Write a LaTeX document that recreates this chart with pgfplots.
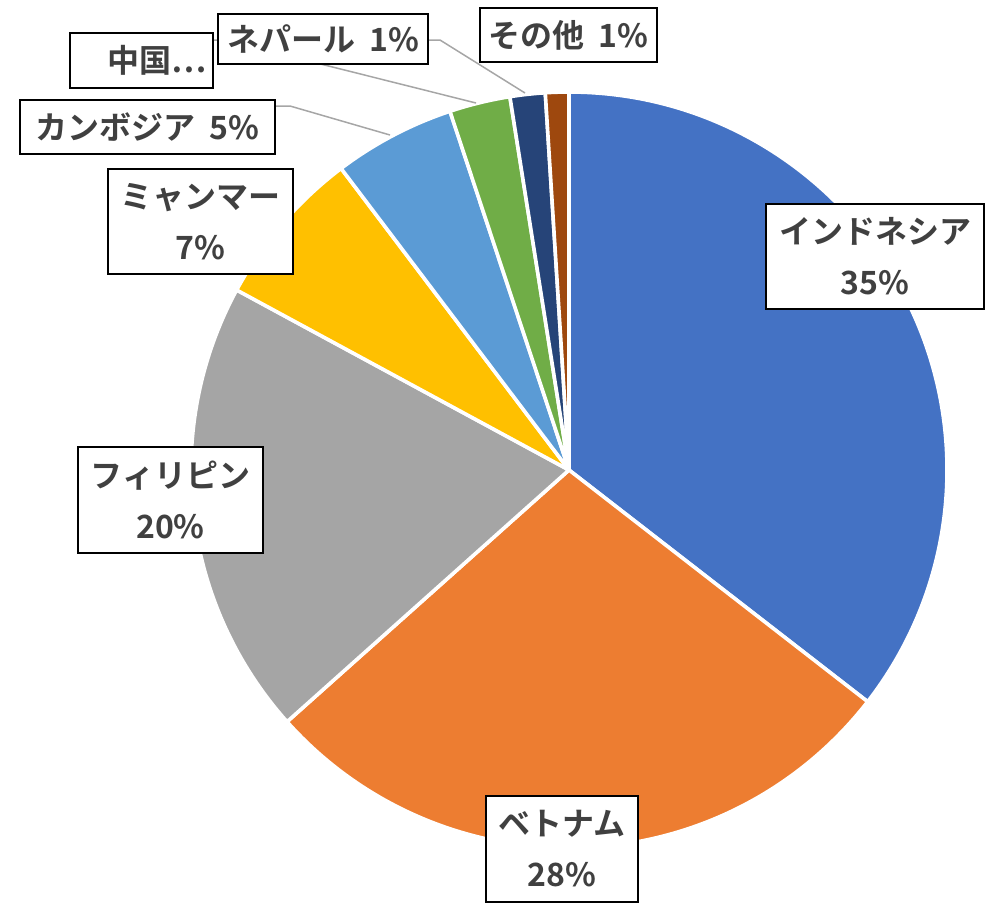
\documentclass[border=0pt]{standalone}
\usepackage{pgfplots}
\usepackage{pgfplotstable}
\pgfplotsset{compat=1.18}
\usepackage{fontspec}
\setmainfont{Noto Sans CJK JP}[BoldFont={Noto Sans CJK JP Bold}]

\definecolor{c1}{HTML}{4472C4}
\definecolor{c2}{HTML}{ED7D31}
\definecolor{c3}{HTML}{A5A5A5}
\definecolor{c4}{HTML}{FFC000}
\definecolor{c5}{HTML}{5B9BD5}
\definecolor{c6}{HTML}{70AD47}
\definecolor{c7}{HTML}{264478}
\definecolor{c8}{HTML}{9E480E}
\definecolor{txt}{HTML}{404040}
\definecolor{lead}{HTML}{A6A6A6}

\tikzset{lbl/.style={draw=black, line width=1pt, fill=white, text=txt,
    font=\bfseries\fontsize{16}{25.5}\selectfont, align=center, inner sep=0pt}}

% shares in percent, clockwise from 12 o'clock
\pgfplotstableread{
name        share color
Indonesia   35.5  c1
Vietnam     27.9  c2
Philippines 19.5  c3
Myanmar     6.8   c4
Cambodia    5.2   c5
China       2.6   c6
Nepal       1.5   c7
Other       1.0   c8
}\piedata

% label box: x1 y1 x2 y2 (pixels) and text
\newcommand{\lbox}[5]{%
  \node[lbl, minimum width={(#3-#1)*0.5pt}, minimum height={(#4-#2)*0.5pt}]
    at (axis cs:{(#1+#3)/2},{(#2+#4)/2}) {#5};}
\newcommand{\gap}{\hspace{7pt}}

\begin{document}
\begin{tikzpicture}
\useasboundingbox (0,0) rectangle (500.5pt,453.5pt);
\begin{axis}[
    hide axis, scale only axis, clip=false,
    width=500.5pt, height=453.5pt,
    xmin=0, xmax=1001, ymin=0, ymax=907, y dir=reverse,
  ]
  \pgfmathsetmacro{\acc}{0}
  \pgfplotsforeachungrouped \i in {0,...,7}{%
    \pgfplotstablegetelem{\i}{share}\of\piedata \let\pshare\pgfplotsretval
    \pgfplotstablegetelem{\i}{color}\of\piedata \let\pcol\pgfplotsretval
    \pgfmathsetmacro{\sa}{90-\acc*3.6}
    \pgfmathsetmacro{\sb}{90-(\acc+\pshare)*3.6}
    \pgfmathsetmacro{\px}{569+378*cos(\sa)}
    \pgfmathsetmacro{\py}{470-378*sin(\sa)}
    \edef\temp{\noexpand\fill[\pcol, draw=white, line width=1.8pt, line join=round]
      (axis cs:569,470) -- (axis cs:\px,\py)
      arc[start angle=\sa, end angle=\sb, radius=189pt] -- cycle;}
    \temp
    \pgfmathsetmacro{\acc}{\acc+\pshare}
  }

  % leader lines
  \draw[lead, line width=0.75pt] (axis cs:275,106) -- (axis cs:290,106) -- (axis cs:390,135);
  \draw[lead, line width=0.75pt] (axis cs:213,40) -- (axis cs:225,40) -- (axis cs:476,103);
  \draw[lead, line width=0.75pt] (axis cs:428,40) -- (axis cs:440,40) -- (axis cs:525,93);

  \lbox{766}{204}{984}{309}{インドネシア\\35\%}
  \lbox{486}{796}{638}{902}{ベトナム\\28\%}
  \lbox{78}{447}{263}{553}{フィリピン\\20\%}
  \lbox{108}{169}{293}{274}{ミャンマー\\7\%}
  \lbox{20}{100}{275}{154}{カンボジア\gap 5\%}
  \lbox{70}{33}{213}{88}{\hspace*{16pt}中国…}
  \lbox{218}{14}{428}{64}{ネパール\gap 1\%}
  \lbox{480}{8}{657}{62}{その他\gap 1\%}
\end{axis}
\end{tikzpicture}
\end{document}
